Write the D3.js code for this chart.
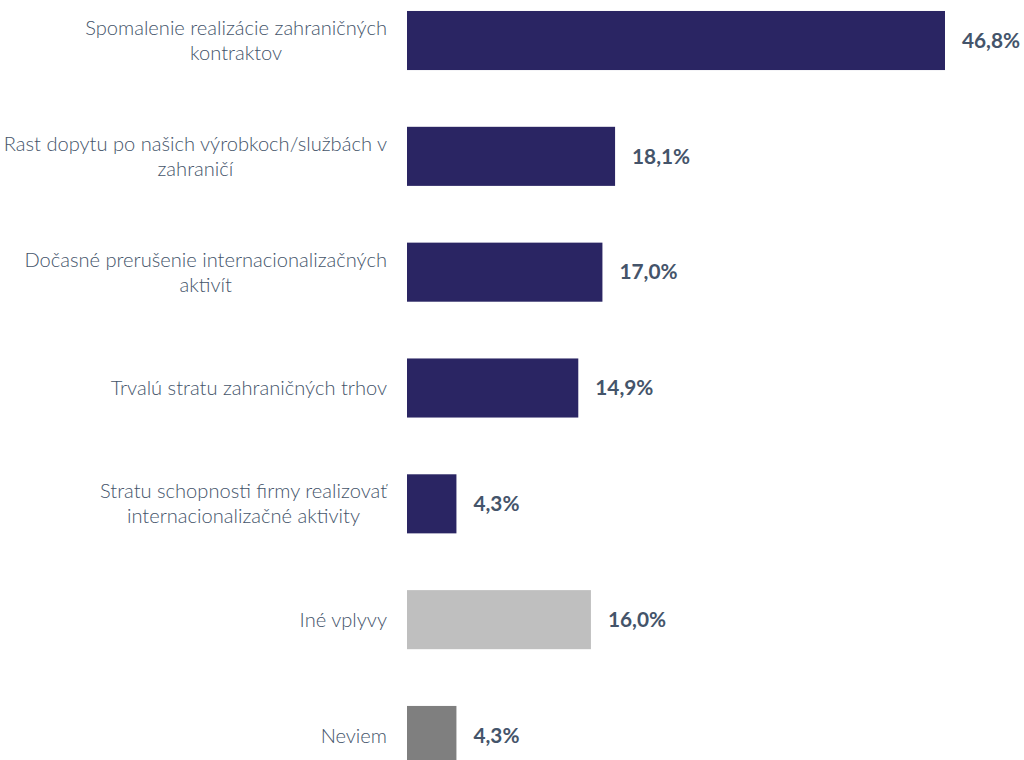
<!DOCTYPE html>
<html>
<head>
<meta charset="utf-8">
<script src="https://cdn.jsdelivr.net/npm/d3@7"></script>
<style>
  html, body { margin: 0; padding: 0; background: #fff; overflow: hidden; }
  svg { display: block; }
</style>
</head>
<body>
<svg id="chart" width="1024" height="760"></svg>
<script>
// Categories (each entry = lines of a wrapped label)
const categories = [
  ["Spomalenie realizácie zahraničných", "kontraktov"],
  ["Rast dopytu po našich výrobkoch/službách v", "zahraničí"],
  ["Dočasné prerušenie internacionalizačných", "aktivít"],
  ["Trvalú stratu zahraničných trhov"],
  ["Stratu schopnosti firmy realizovať", "internacionalizačné aktivity"],
  ["Iné vplyvy"],
  ["Neviem"]
];
const values = [46.8, 18.1, 17.0, 14.9, 4.3, 16.0, 4.3];
const valueLabels = ["46,8%", "18,1%", "17,0%", "14,9%", "4,3%", "16,0%", "4,3%"];
const barColors = ["#2a2563", "#2a2563", "#2a2563", "#2a2563", "#2a2563", "#bfbfbf", "#7f7f7f"];

const svg = d3.select("#chart");
const ids = categories.map((c, i) => i);

const y = d3.scaleBand()
  .domain(ids)
  .range([-17.4, 793.4])
  .paddingInner(0.49)
  .paddingOuter(0.245);

const x = d3.scaleLinear()
  .domain([0, 46.8])
  .range([407, 945]);

const textColor = "#44546a";
const font = "Lato, 'Open Sans', sans-serif";

// Bars
svg.append("g").selectAll("rect")
  .data(ids)
  .join("rect")
  .attr("x", x(0))
  .attr("y", i => y(i))
  .attr("width", i => x(values[i]) - x(0))
  .attr("height", y.bandwidth())
  .attr("fill", i => barColors[i]);

// Value labels
svg.append("g").selectAll("text")
  .data(ids)
  .join("text")
  .attr("x", i => x(values[i]) + 17)
  .attr("y", i => y(i) + y.bandwidth() / 2)
  .attr("dy", "0.35em")
  .attr("font-family", font)
  .attr("font-weight", 700)
  .attr("font-size", 20.8)
  .attr("fill", textColor)
  .text(i => valueLabels[i]);

// Category labels: centred text block, right edge aligned next to the bars
const labelRight = 387;
const lineH = 25;
const labels = svg.append("g");
ids.forEach(i => {
  const lines = categories[i];
  const g = labels.append("g");
  const cy = y(i) + y.bandwidth() / 2;
  const texts = lines.map((ln, k) => g.append("text")
    .attr("y", cy + (k - (lines.length - 1) / 2) * lineH)
    .attr("dy", "0.35em")
    .attr("font-family", font)
    .attr("font-weight", 300)
    .attr("font-size", 20.1)
    .attr("fill", textColor)
    .attr("text-anchor", "middle")
    .text(ln));
  const maxW = d3.max(texts, t => t.node().getComputedTextLength());
  texts.forEach(t => t.attr("x", labelRight - maxW / 2));
});
</script>
</body>
</html>
